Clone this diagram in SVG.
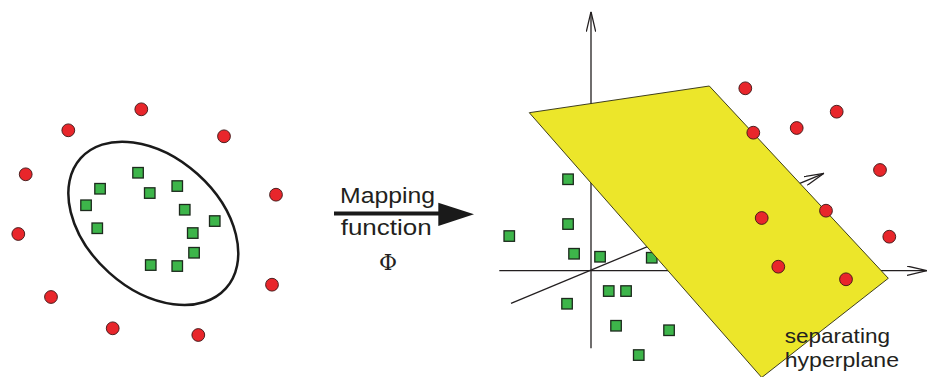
<svg xmlns="http://www.w3.org/2000/svg" width="928" height="377" viewBox="0 0 928 377">
<defs>
<style>
.red{fill:#e8262b;stroke:#3a1515;stroke-width:0.9}
.grn{fill:#3db54a;stroke:#1d2a1d;stroke-width:1.3}
.ax{fill:none;stroke:#231f20;stroke-width:1.3}
.lbl{font-family:"Liberation Sans","Open Sans",Arial,sans-serif;fill:#231f20}
</style>
<marker id="open" viewBox="0 0 20 10" refX="20" refY="5" markerWidth="20" markerHeight="10" markerUnits="userSpaceOnUse" orient="auto">
<path d="M0,0.3 L20,5 L0,9.7" fill="none" stroke="#231f20" stroke-width="1.3"/>
</marker>
</defs>
<rect width="928" height="377" fill="#ffffff"/>

<!-- left panel -->
<g id="boundary">
<ellipse cx="153.3" cy="223.3" rx="97.5" ry="66.2" transform="rotate(41.9 153.3 223.3)" fill="none" stroke="#1a1a1a" stroke-width="2.5"/>
</g>
<g id="left-red">
<circle class="red" cx="141.3" cy="109.3" r="6.4"/>
<circle class="red" cx="68.3" cy="130.3" r="6.4"/>
<circle class="red" cx="224" cy="136.3" r="6.4"/>
<circle class="red" cx="25.7" cy="174.3" r="6.4"/>
<circle class="red" cx="276" cy="194.7" r="6.4"/>
<circle class="red" cx="18.3" cy="234" r="6.4"/>
<circle class="red" cx="272" cy="284.7" r="6.4"/>
<circle class="red" cx="51" cy="297" r="6.4"/>
<circle class="red" cx="112.7" cy="328.3" r="6.4"/>
<circle class="red" cx="198.3" cy="335" r="6.4"/>
</g>
<g id="left-green">
<rect class="grn" x="132.8" y="167.5" width="10.5" height="10.5"/>
<rect class="grn" x="94.8" y="183.5" width="10.5" height="10.5"/>
<rect class="grn" x="172" y="180.8" width="10.5" height="10.5"/>
<rect class="grn" x="144.5" y="187.8" width="10.5" height="10.5"/>
<rect class="grn" x="80.8" y="200" width="10.5" height="10.5"/>
<rect class="grn" x="179.5" y="204.5" width="10.5" height="10.5"/>
<rect class="grn" x="209.5" y="215.8" width="10.5" height="10.5"/>
<rect class="grn" x="92" y="223" width="10.5" height="10.5"/>
<rect class="grn" x="187.5" y="227.8" width="10.5" height="10.5"/>
<rect class="grn" x="188.8" y="247.5" width="10.5" height="10.5"/>
<rect class="grn" x="145.5" y="259.8" width="10.5" height="10.5"/>
<rect class="grn" x="172" y="260.8" width="10.5" height="10.5"/>
</g>

<!-- connectors: mapping arrow and axes -->
<g id="connectors">
<line x1="334" y1="213.6" x2="440" y2="213.6" stroke="#1a1a1a" stroke-width="4"/>
<polygon points="438.3,202.7 474,214.3 438.3,226" fill="#1a1a1a"/>
<line class="ax" x1="591" y1="348.3" x2="591" y2="11.7" marker-end="url(#open)"/>
<line class="ax" x1="499.3" y1="270.7" x2="927" y2="270.7" marker-end="url(#open)"/>
<line class="ax" x1="511" y1="303.3" x2="824" y2="173.3" marker-end="url(#open)"/>
</g>

<!-- right panel -->
<g id="right-green">
<rect class="grn" x="562.8" y="174" width="10.5" height="10.5"/>
<rect class="grn" x="562.8" y="218.8" width="10.5" height="10.5"/>
<rect class="grn" x="504" y="230.8" width="10.5" height="10.5"/>
<rect class="grn" x="568.8" y="248.5" width="10.5" height="10.5"/>
<rect class="grn" x="594.8" y="251.5" width="10.5" height="10.5"/>
<rect class="grn" x="646.5" y="252.5" width="10.5" height="10.5"/>
<rect class="grn" x="603.5" y="285.8" width="10.5" height="10.5"/>
<rect class="grn" x="620.8" y="285.8" width="10.5" height="10.5"/>
<rect class="grn" x="561.8" y="298.5" width="10.5" height="10.5"/>
<rect class="grn" x="610.8" y="320.5" width="10.5" height="10.5"/>
<rect class="grn" x="663.8" y="325" width="10.5" height="10.5"/>
<rect class="grn" x="633.5" y="349.8" width="10.5" height="10.5"/>
</g>
<g id="hyperplane">
<polygon points="529.3,112.7 709.3,86 888.3,278.3 761.7,377.5" fill="#ece62a" stroke="#2a2a10" stroke-width="0.9"/>
</g>
<g id="right-red">
<circle class="red" cx="745.3" cy="88.3" r="6.4"/>
<circle class="red" cx="836.7" cy="111.7" r="6.4"/>
<circle class="red" cx="796.7" cy="128" r="6.4"/>
<circle class="red" cx="753.3" cy="132.7" r="6.4"/>
<circle class="red" cx="880" cy="170" r="6.4"/>
<circle class="red" cx="826" cy="210.7" r="6.4"/>
<circle class="red" cx="761.7" cy="218" r="6.4"/>
<circle class="red" cx="889.3" cy="236.7" r="6.4"/>
<circle class="red" cx="778.3" cy="266.7" r="6.4"/>
<circle class="red" cx="846" cy="279.3" r="6.4"/>
</g>

<!-- labels -->
<g id="mapping-label">
<text class="lbl" x="340" y="203.3" font-size="22" textLength="95" lengthAdjust="spacingAndGlyphs">Mapping</text>
<text class="lbl" x="340.7" y="235" font-size="22" textLength="91" lengthAdjust="spacingAndGlyphs">function</text>
<text x="388" y="270" font-size="22" text-anchor="middle" font-family="'DejaVu Serif','Liberation Serif',serif" fill="#231f20">Φ</text>
</g>
<g id="hyperplane-label">
<text class="lbl" x="784.7" y="342.8" font-size="21" textLength="105.3" lengthAdjust="spacingAndGlyphs">separating</text>
<text class="lbl" x="784.7" y="367" font-size="21" textLength="114.3" lengthAdjust="spacingAndGlyphs">hyperplane</text>
</g>
</svg>
